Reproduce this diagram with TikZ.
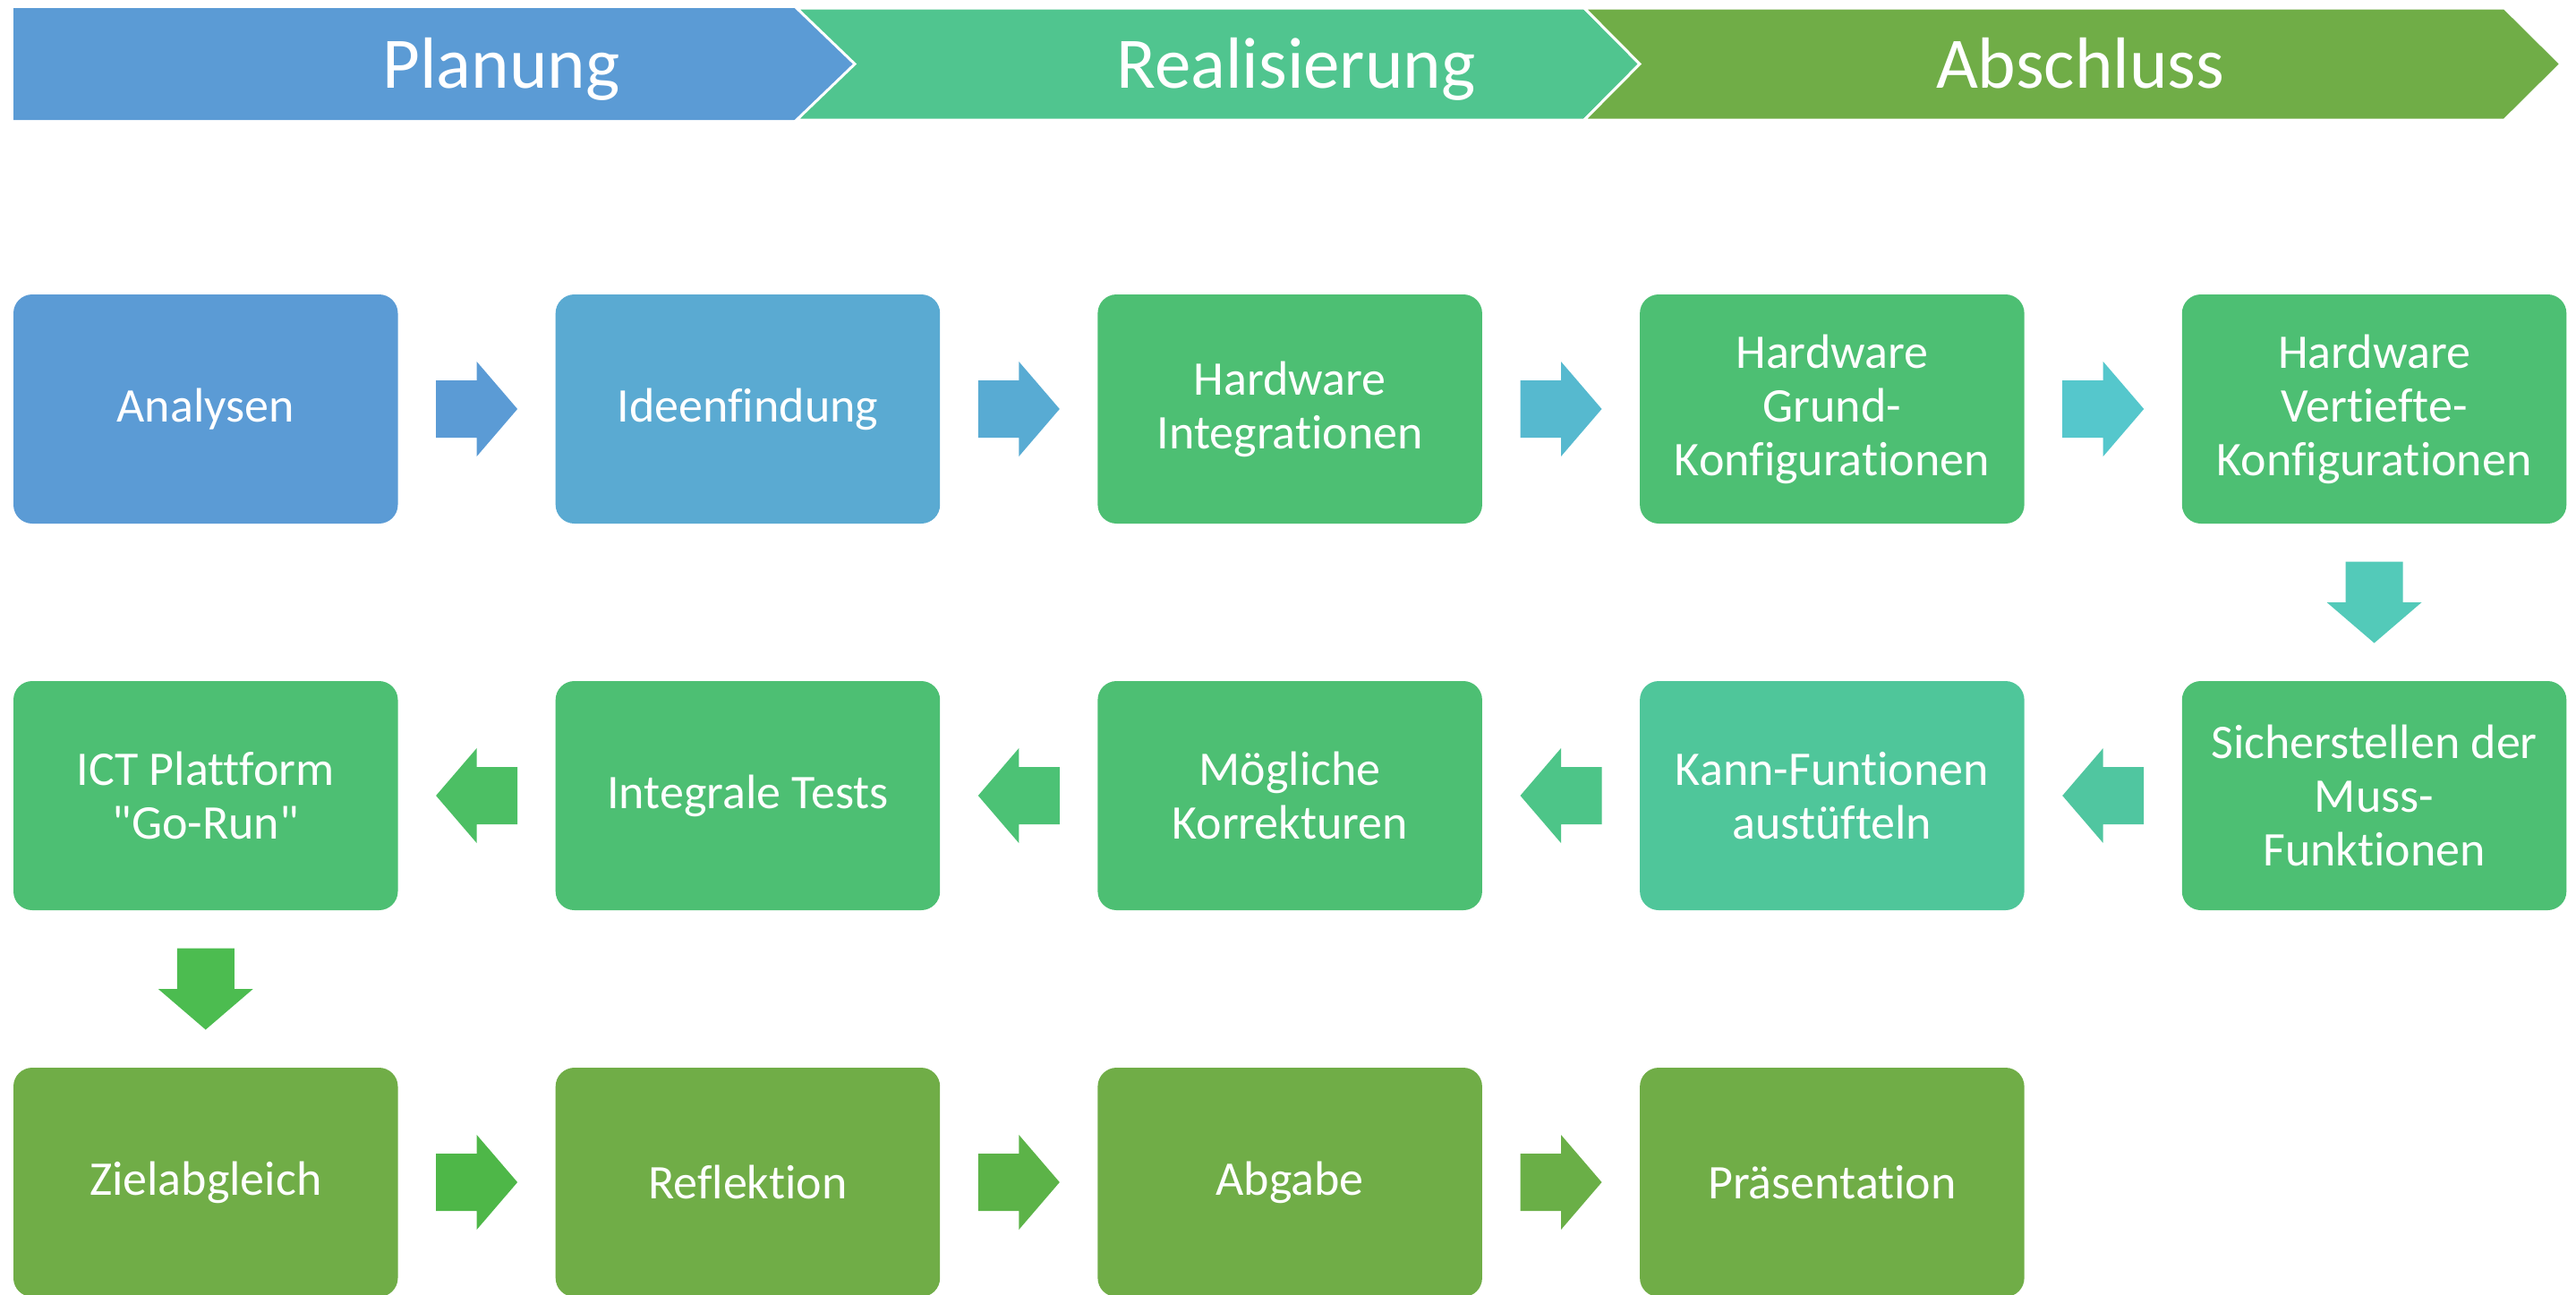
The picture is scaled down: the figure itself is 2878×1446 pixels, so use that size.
\documentclass[tikz,border=0pt]{standalone}
\usepackage{fontspec}
\setmainfont{Carlito}[Ligatures=TeXOff, RawFeature={-liga;-clig;-calt;-dlig}]
\usetikzlibrary{calc}

% phase and step colours
\definecolor{planblue}{HTML}{5B9BD5}
\definecolor{ideablue}{HTML}{5AAAD2}
\definecolor{boxgreen}{HTML}{4DBF73}
\definecolor{boxteal}{HTML}{4FC69A}
\definecolor{realgreen}{HTML}{50C58F}
\definecolor{olive}{HTML}{70AD47}
% arrow colours, running from blue to olive
\definecolor{arrA}{HTML}{5B9BD5}
\definecolor{arrB}{HTML}{58ABD3}
\definecolor{arrC}{HTML}{56B9CF}
\definecolor{arrD}{HTML}{55C7CC}
\definecolor{arrE}{HTML}{53CAB9}
\definecolor{arrF}{HTML}{50C6A0}
\definecolor{arrG}{HTML}{4DC588}
\definecolor{arrH}{HTML}{4CC275}
\definecolor{arrI}{HTML}{4CBF64}
\definecolor{arrJ}{HTML}{4CBC50}
\definecolor{arrK}{HTML}{4EB748}
\definecolor{arrL}{HTML}{5CB348}
\definecolor{arrM}{HTML}{6AAF47}

\begin{document}
\begin{tikzpicture}[x=0.5pt,y=-0.5pt,
  stepbox/.style={rectangle, rounded corners=10.5pt, minimum width=214.75pt,
    minimum height=128pt, align=center, inner sep=0pt,
    text=white, font=\fontsize{27}{30}\selectfont},
  phasetext/.style={text=white, font=\fontsize{40.5}{48}\selectfont,
    anchor=base, inner sep=0pt},
  phaseband/.style={draw=white, line width=1.5pt, line join=miter},
  pics/fatarrow/.style={code={
    \fill[#1] (-45.5,-32) -- (0,-32) -- (0,-53) -- (45.5,0) -- (0,53)
      -- (0,32) -- (-45.5,32) -- cycle;}}
]
\useasboundingbox (0,0) rectangle (2878,1446);

% phase banner
\fill[planblue] (15,9) -- (890,9) -- (955,71.5) -- (890,134) -- (15,134) -- cycle;
\filldraw[fill=realgreen, phaseband] (890,9) -- (1770,9) -- (1832,71.5)
  -- (1770,134) -- (890,134) -- (955,71.5) -- cycle;
\filldraw[fill=olive, phaseband] (1770,9) -- (2798,9) -- (2861,71.5)
  -- (2798,134) -- (1770,134) -- (1832,71.5) -- cycle;
\node[phasetext] (tplan) at (560,98) {Planung};
\node[phasetext] (treal) at (1448,98) {Realisierung};
\node[phasetext] (tabs) at (2324,98) {Abschluss};

% first row
\node[stepbox, fill=planblue] (b1) at (229.75,457) {Analysen};
\node[stepbox, fill=ideablue] (b2) at (835.45,457) {Ideenfindung};
\node[stepbox, fill=boxgreen] (b3) at (1441.15,457) {Hardware\\Integrationen};
\node[stepbox, fill=boxgreen] (b4) at (2046.85,457) {Hardware\\Grund-\\Konfigurationen};
\node[stepbox, fill=boxgreen] (b5) at (2652.55,457) {Hardware\\Vertiefte-\\Konfigurationen};

% second row
\node[stepbox, fill=boxgreen] (c5) at (2652.55,889) {Sicherstellen der\\Muss-\\Funktionen};
\node[stepbox, fill=boxteal] (c4) at (2046.85,889) {Kann-Funtionen\\austüfteln};
\node[stepbox, fill=boxgreen] (c3) at (1441.15,889) {Mögliche\\Korrekturen};
\node[stepbox, fill=boxgreen] (c2) at (835.45,889) {Integrale Tests};
\node[stepbox, fill=boxgreen] (c1) at (229.75,889) {ICT Plattform\\"Go-Run"};

% third row
\node[stepbox, fill=olive] (d1) at (229.75,1321) {Zielabgleich};
\node[stepbox, fill=olive] (d2) at (835.45,1321) {Reflektion};
\node[stepbox, fill=olive] (d3) at (1441.15,1321) {Abgabe};
\node[stepbox, fill=olive] (d4) at (2046.85,1321) {Präsentation};

% block arrows between the steps
\pic at ($(b1.east)!0.5!(b2.west)$) {fatarrow=arrA};
\pic at ($(b2.east)!0.5!(b3.west)$) {fatarrow=arrB};
\pic at ($(b3.east)!0.5!(b4.west)$) {fatarrow=arrC};
\pic at ($(b4.east)!0.5!(b5.west)$) {fatarrow=arrD};
\pic[rotate=-90] at ($(b5.south)!0.5!(c5.north)$) {fatarrow=arrE};
\pic[rotate=180] at ($(c5.west)!0.5!(c4.east)$) {fatarrow=arrF};
\pic[rotate=180] at ($(c4.west)!0.5!(c3.east)$) {fatarrow=arrG};
\pic[rotate=180] at ($(c3.west)!0.5!(c2.east)$) {fatarrow=arrH};
\pic[rotate=180] at ($(c2.west)!0.5!(c1.east)$) {fatarrow=arrI};
\pic[rotate=-90] at ($(c1.south)!0.5!(d1.north)$) {fatarrow=arrJ};
\pic at ($(d1.east)!0.5!(d2.west)$) {fatarrow=arrK};
\pic at ($(d2.east)!0.5!(d3.west)$) {fatarrow=arrL};
\pic at ($(d3.east)!0.5!(d4.west)$) {fatarrow=arrM};
\end{tikzpicture}
\end{document}
